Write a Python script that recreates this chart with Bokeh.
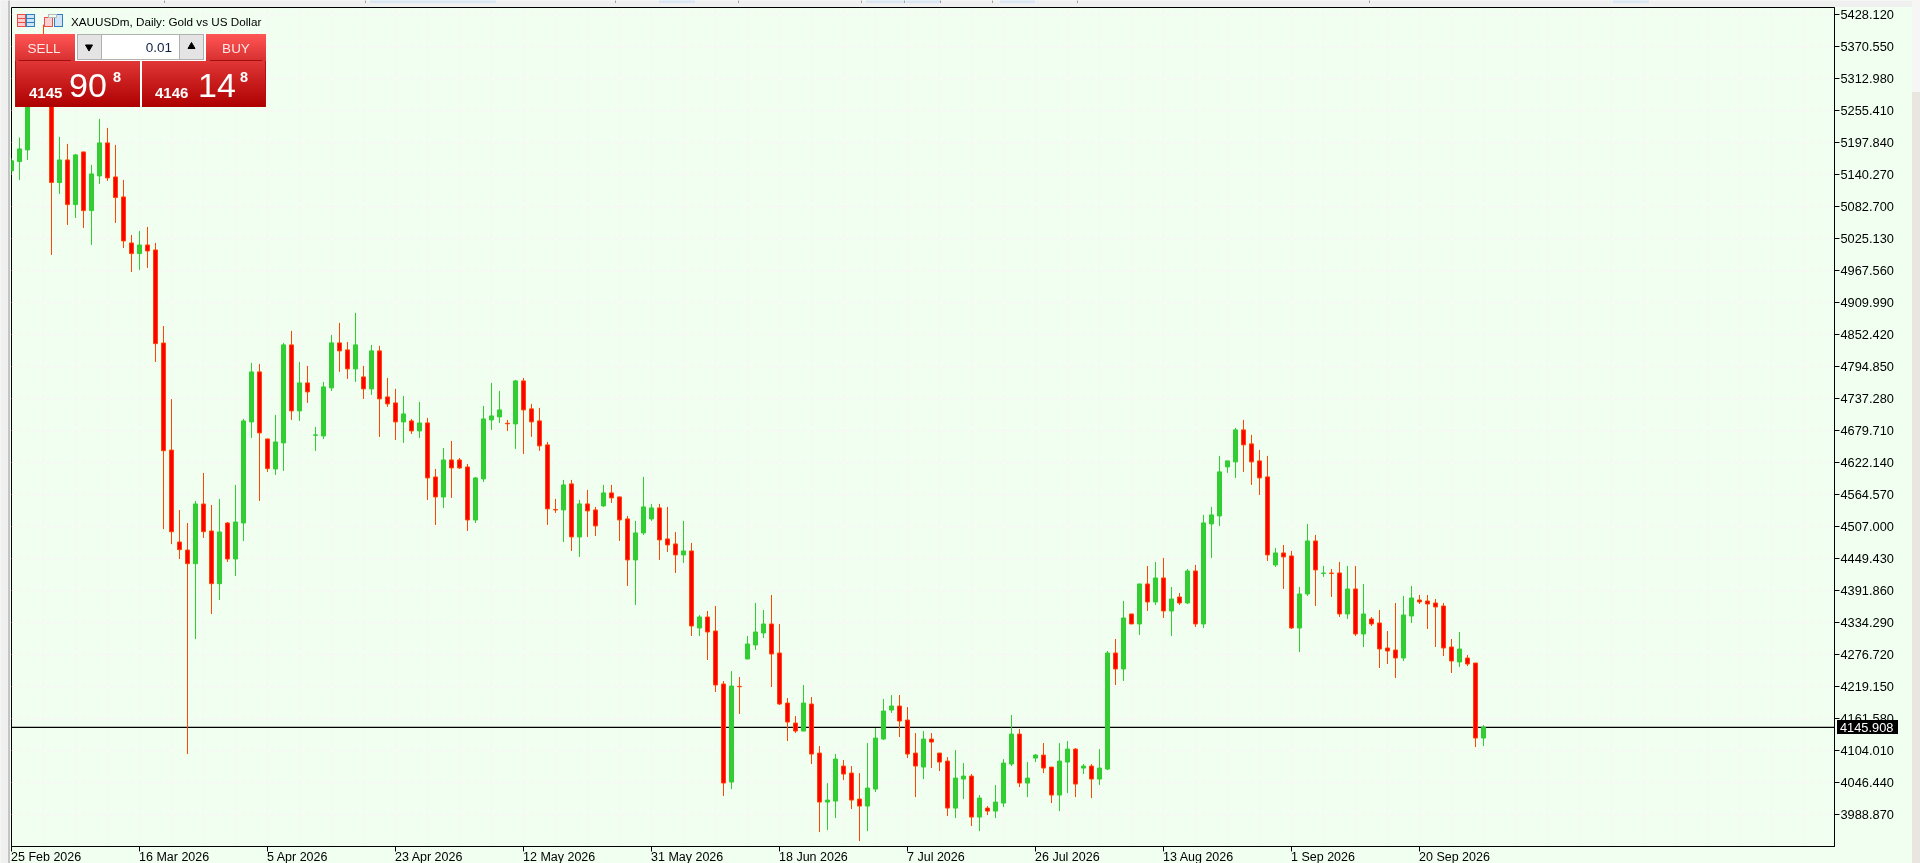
from bokeh.plotting import figure
from bokeh.embed import file_html
from bokeh.resources import INLINE
from bokeh.core.properties import value
from bokeh.models import Range1d, LinearAxis, FixedTicker, Span, Grid

# ---------- chart data ----------
opens = [
5147,5163.7,5184.7,5290,5350,5300,5125.9,5166.7,5086.3,5181.1,
5075.5,5137.9,5197.3,5136.1,5100.1,5017.3,4998.1,5013.7,5004.7,4837.3,
4644.7,4479.3,4464.9,4440.3,4547.7,4499.1,4404.3,4513.5,4448.7,4513.5,
4695.3,4785.3,4664.7,4610.7,4657.5,4833.9,4715.1,4765.5,4671.3,4670.1,
4756.5,4837.5,4824.9,4790.7,4776.3,4754.7,4823.1,4740.3,4729.5,4695.3,
4697.1,4679.1,4693.5,4596.3,4560.3,4626.9,4626.9,4614.3,4518.9,4592.7,
4698.9,4704.3,4692.9,4691.7,4769.1,4718.8,4697.2,4654,4537.6,4537,
4583.8,4488.4,4547.8,4537,4544.2,4567.6,4560.4,4520.8,4447,4495.6,
4520.8,4540.6,4484.8,4475.8,4456,4463.2,4324.6,4344.4,4319.2,4223.8,
4047.4,4219.6,4268.8,4294,4315.6,4331.8,4279.6,4189.6,4153.6,4139.2,
4187.8,4099.6,4011.4,4013.2,4076.2,4063.6,4016.8,4004.2,4034.8,4124.8,
4177,4184.2,4159,4099.6,4074.4,4124.8,4099.6,4085.2,4000.6,4052.8,
4058.2,3984.4,4000.6,3995.2,4009.6,4079.8,4133.8,4045.6,4090.6,4096,
4074.4,4024,4083.4,4106.8,4072.6,4076.2,4052.8,4070.8,4279.6,4250.8,
4349.8,4331.8,4403.8,4371.4,4414.6,4355.2,4380.4,4369.6,4427.2,4331.8,
4511.8,4526.2,4614.4,4623.4,4681,4655.8,4625.2,4596.4,4438,4459.6,
4454.2,4324.6,4385.8,4481.2,4422.8,4423.4,4423.6,4349.8,4394.8,4313.8,
4340.8,4333.6,4288.6,4285,4270.6,4346.2,4375,4373.2,4369.6,4364.2,
4290.4,4263.4,4270.6,4261.6,4126.6]
highs = [
5170,5206.9,5320,5370,5410,5320,5208.1,5195.5,5177.5,5181.1,
5157.7,5240.5,5224.3,5193.7,5130.7,5031.7,5038.9,5046.1,5017.3,4867.9,
4736.5,4536.9,4513.5,4553.1,4603.5,4545.9,4556.7,4515.3,4581.9,4700.7,
4801.5,4799.7,4664.7,4707.9,4837.5,4859.1,4803.3,4796.1,4686.3,4767.3,
4851.9,4873.5,4839.3,4891.5,4796.1,4833.9,4832.1,4774.5,4754.7,4742.1,
4700.7,4731.3,4702.5,4610.7,4648.5,4661.1,4630.5,4619.7,4596.3,4724.1,
4765.5,4751.1,4698.9,4770.9,4774.5,4727.8,4720.6,4659.4,4556.8,4591,
4591,4555,4573,4542.4,4582,4582,4560.4,4526.2,4517.2,4596.4,
4547.8,4547.8,4542.4,4497.4,4517.2,4477.6,4348,4355.2,4364.2,4229.2,
4247.2,4236.4,4310.2,4369.6,4357,4384,4331.8,4198.6,4166.2,4222,
4200.4,4112.2,4045.6,4097.8,4087,4076.2,4063.6,4117.6,4144.6,4196.8,
4204,4204,4182.4,4135.6,4139.2,4135.6,4099.6,4092.4,4105,4081.6,
4061.8,4024,4004.2,4042,4088.8,4168,4142.8,4083.4,4097.8,4117.6,
4074.4,4117.6,4121.2,4108.6,4079.8,4079.8,4106.8,4283.2,4304.8,4373.2,
4349.8,4403.8,4436.2,4443.4,4450.6,4398.4,4387.6,4430.8,4438,4528,
4542.4,4634.2,4625.2,4684.6,4699,4672,4645,4634.2,4468.6,4474,
4463.2,4398.4,4511.8,4492,4436.2,4430.8,4443.4,4436.2,4436.2,4403.8,
4344.4,4357,4319.2,4369.6,4382.2,4400.2,4384,4384,4376.8,4369.6,
4304.8,4317.4,4276,4261.6,4150]
lows = [
5140,5130.7,5166.7,5270,5285,4995.7,5105.5,5049.7,5062.3,5044.3,
5013.7,5123.5,5128.9,5053.3,5008.3,4965.1,4968.7,4972.3,4803.1,4502.5,
4475.5,4448.7,4097.7,4304.7,4486.5,4349.7,4374.9,4443.3,4418.1,4481.1,
4666.5,4553.1,4605.3,4599.9,4607.1,4698.9,4697.1,4729.5,4643.1,4664.7,
4751.1,4785.3,4772.7,4767.3,4736.7,4743.9,4668.3,4722.3,4662.9,4657.5,
4673.7,4666.5,4554.9,4509.9,4540.5,4558.5,4610.7,4499.1,4513.5,4587.3,
4680.9,4693.5,4679.1,4646.7,4637.7,4668.4,4643.2,4510,4531.6,4479.4,
4463.2,4452.4,4488.4,4490.2,4542.4,4549.6,4481.2,4400.2,4366,4492,
4517.2,4447,4461.4,4423.6,4441.6,4310.2,4310.2,4267,4209.4,4022.2,
4034.8,4169.8,4268.8,4285,4306.6,4218.4,4186,4121.2,4135.6,4139.2,
4079.8,3957.4,3961,3982.6,4051,3998.8,3941.2,3959.2,4029.4,4123,
4171.6,4128.4,4090.6,4020.4,4052.8,4072.6,4067.2,3986.2,3982.6,4016.8,
3968.2,3959.2,3988,3982.6,4002.4,4076.2,4038.4,4020.4,4083.4,4063.6,
4009.6,3995.2,4027.6,4020.4,4061.8,4018.6,4042,4069,4222,4229.2,
4331.8,4312,4355.2,4366,4342.6,4310.2,4366,4367.8,4326.4,4324.6,
4450.6,4508.2,4603.6,4594.6,4605.4,4582,4564,4445.2,4434.4,4394.8,
4322.8,4281.4,4382.2,4364.2,4416.4,4380.4,4344.4,4340.8,4310.2,4290.4,
4328.2,4252.6,4259.8,4234.6,4265.2,4333.6,4367.8,4322.8,4290.4,4274.2,
4243.6,4254.4,4256.2,4110.4,4112.2]
closes = [
5165,5186.5,5300,5350,5300,5126,5166.7,5086.3,5175.7,5075.5,
5141.5,5197.3,5134.3,5098.9,5020.9,4998.1,5013.7,5002.9,4836.1,4643.5,
4497.7,4465.5,4440.3,4547.7,4497.9,4404.3,4497.3,4448.7,4515.3,4697.1,
4785.3,4675.5,4611.3,4659.3,4833.9,4715.1,4765.5,4749.3,4672,4758.3,
4837.5,4823.1,4790.7,4833.9,4754.7,4823.1,4736.7,4727.7,4695.3,4709.7,
4679.1,4693.5,4594.5,4560.3,4626.9,4612.5,4612.5,4518.9,4594.5,4700.7,
4706.1,4716.9,4692,4769.1,4716.9,4695.4,4652.2,4538.8,4536.9,4582,
4488.4,4547.8,4535.2,4508.2,4567.6,4558.6,4519,4447,4495.6,4542.4,
4540.6,4483,4474,4456,4463.2,4328.2,4344.4,4317.4,4222,4045.6,
4220.2,4218.9,4295.8,4317.4,4331.8,4277.8,4187.8,4155.4,4139.2,4189.6,
4097.8,4011.4,4015,4088.8,4061.8,4015,4004.2,4036.6,4126.6,4175.2,
4184.2,4157.2,4097.8,4076.2,4124.8,4119.4,4083.4,4000.6,4054.6,4058.2,
3984.4,4018.6,3995.2,4011.4,4081.6,4133.8,4045.6,4054.6,4096,4072.6,
4024,4085.2,4106.8,4043.8,4076.2,4052.8,4072.6,4279.6,4250.8,4342.6,
4331.8,4403.8,4371.4,4414.6,4355.2,4376.8,4369.6,4427.2,4331.8,4513.6,
4528,4605.4,4625.2,4681,4654,4623.4,4594.6,4456,4459.6,4452.4,
4324.6,4385.8,4481.2,4429,4423.4,4422.8,4349.8,4394.8,4313.8,4349.8,
4331.8,4286.8,4283.2,4270.6,4348,4378.6,4371.4,4367.8,4362.4,4288.6,
4265.2,4286.8,4259.8,4126.6,4145.9]
assert len(opens) == len(highs) == len(lows) == len(closes) == 185

date_ticks = [0,16,32,48,64,80,96,112,128,144,160,176]
date_labels = ["25 Feb 2026","16 Mar 2026","5 Apr 2026","23 Apr 2026","12 May 2026","31 May 2026",
               "18 Jun 2026","7 Jul 2026","26 Jul 2026","13 Aug 2026","1 Sep 2026","20 Sep 2026"]
price_labels = ["5428.120","5370.550","5312.980","5255.410","5197.840","5140.270","5082.700","5025.130",
                "4967.560","4909.990","4852.420","4794.850","4737.280","4679.710","4622.140","4564.570",
                "4507.000","4449.430","4391.860","4334.290","4276.720","4219.150","4161.580","4104.010",
                "4046.440","3988.870"]
price_ticks = [float(s) for s in price_labels]
last_price = 4145.908
last_price_label = "4145.908"

# ---------- geometry of the terminal window ----------
W, H = 1920, 863
FL, FR, FT, FB = 11, 1834, 7, 846          # plot frame in page pixels
BAR_PX = 8.0
PX_PER_PRICE = 32 / 57.57
ANCHOR = 14.1                              # frame-space row of the top price tick
x0 = 0.0
x1 = (FR - FL) / BAR_PX
y1 = 5428.12 + (ANCHOR - FT) / PX_PER_PRICE
y0 = 5428.12 - (FB - ANCHOR) / PX_PER_PRICE

BG, UP, DOWN_FILL, DOWN_LINE = "#F0FFF0", "#32CD32", "#FF0000", "#FF4500"
GRID = "#FFF0F5"
FONT = "Liberation Sans"
FIXED = {"position": "fixed", "left": "0px", "top": "0px"}

p = figure(width=W, height=H, output_backend="svg", toolbar_location=None,
           x_range=Range1d(x0, x1), y_range=Range1d(y0, y1),
           x_axis_location=None, y_axis_location=None,
           min_border_left=FL, min_border_right=W - FR, min_border_top=FT, min_border_bottom=H - FB,
           background_fill_color=BG, border_fill_color=BG,
           outline_line_color="black", outline_line_width=1, styles=dict(FIXED))
p.grid.visible = False

bottom = LinearAxis(ticker=FixedTicker(ticks=date_ticks),
                    major_label_overrides={t: "" for t in date_ticks},
                    major_tick_out=5, major_tick_in=0, minor_tick_line_color=None,
                    axis_line_color="black", major_tick_line_color="black", major_label_standoff=0)
right = LinearAxis(ticker=FixedTicker(ticks=price_ticks),
                   major_label_overrides={t: s for t, s in zip(price_ticks, price_labels)},
                   major_label_text_font=FONT, major_label_text_font_size="12.8px",
                   major_label_text_color="black", major_tick_out=5, major_tick_in=0,
                   major_label_standoff=1, minor_tick_line_color=None,
                   axis_line_color="black", major_tick_line_color="black")
p.add_layout(bottom, "below")
p.add_layout(right, "right")

p.add_layout(Grid(dimension=0, ticker=FixedTicker(ticks=list(range(0, 232, 4))),
                  grid_line_color=GRID, grid_line_dash="4 3", grid_line_width=1))
p.add_layout(Grid(dimension=1, ticker=FixedTicker(ticks=price_ticks),
                  grid_line_color=GRID, grid_line_dash="4 3", grid_line_width=1))

# last-price line, behind the candles
p.add_layout(Span(location=last_price, dimension="width", line_color="black", line_width=1.2, level="underlay"))

# candles
up = [i for i in range(len(opens)) if closes[i] >= opens[i]]
dn = [i for i in range(len(opens)) if closes[i] < opens[i]]
bw = 4 / BAR_PX
p.segment(up, [highs[i] for i in up], up, [lows[i] for i in up], line_color=UP, line_width=1)
p.segment(dn, [highs[i] for i in dn], dn, [lows[i] for i in dn], line_color=DOWN_LINE, line_width=1)
p.vbar(up, bw, [closes[i] for i in up], [opens[i] for i in up], fill_color=UP, line_color=UP, line_width=1)
p.vbar(dn, bw, [opens[i] for i in dn], [closes[i] for i in dn], fill_color=DOWN_FILL, line_color=DOWN_LINE, line_width=1)

# ---------- transparent overlay for the terminal's chrome, in page pixels ----------
q = figure(width=W, height=H, output_backend="svg", toolbar_location=None,
           x_range=Range1d(0.5, W + 0.5), y_range=Range1d(H + 0.5, 0.5),
           x_axis_location=None, y_axis_location=None,
           min_border=0, background_fill_color=None, border_fill_color=None,
           outline_line_color=None, styles=dict(FIXED))
q.grid.visible = False

L, R, T, B, C = [], [], [], [], []
def box(l, t, r, b, color):
    L.append(l); T.append(t); R.append(r); B.append(b); C.append(color)

def lerp(c0, c1, f):
    a = [int(c0[k:k+2], 16) for k in (1, 3, 5)]
    b = [int(c1[k:k+2], 16) for k in (1, 3, 5)]
    return "#%02x%02x%02x" % tuple(round(a[i] + (b[i] - a[i]) * f) for i in range(3))

def grad(l, t, r, b, c0, c1):
    for yy in range(t, b):
        box(l, yy, r, yy + 1, lerp(c0, c1, (yy - t) / max(1, b - t - 1)))

TEXTS = []
def text(px, py, s, size, color="black", align="left", style="normal"):
    TEXTS.append((px, py, s, size, color, align, style))

# window strips
box(0, 0, 1920, 7, "#F0F0F0")
box(0, 0, 8, 863, "#F0F0F0")
box(8, 0, 10, 863, "#C4C4C4")
box(1912, 0, 1920, 92, "#F6F6F6")
box(1912, 92, 1920, 863, "#E9E6E0")
for a, b in [(370, 496), (659, 695), (866, 904), (906, 940), (1000, 1035), (1613, 1649)]:
    box(a, 0, b, 3, "#D9E6F4")
for a in [164, 365, 615, 738, 861, 904, 940, 992, 1077, 1369]:
    box(a, 0, a + 1, 3, "#A0A0A0")

# date labels, left-aligned on their ticks (py is the text's vertical centre)
for t, s in zip(date_ticks, date_labels):
    text(FL + t * BAR_PX, 857, s, "12.5px")

# last-price tag
box(1837, 720, 1898, 734, "#000000")
text(1840, 727, last_price_label, "12.8px", color="white")

# icons
box(17, 14, 26, 27, "#E85050")
box(18, 15, 25, 26, "#FBD0D0")
box(26, 14, 35, 27, "#2E7FC0")
box(27, 15, 34, 26, "#CFE5F7")
for yy in (18, 22):
    box(17, yy, 26, yy + 1, "#E85050")
    box(26, yy, 35, yy + 1, "#2E7FC0")
box(44, 17, 53, 27, "#E85050")
box(45, 18, 52, 26, "#FBD0D0")
box(54, 14, 63, 27, "#2E7FC0")
box(55, 15, 62, 26, "#CFE5F7")
box(48, 14, 57, 18, "#B8B8B8")
box(49, 15, 56, 17, "#F0FFF0")
text(71, 21.5, "XAUUSDm, Daily:  Gold vs US Dollar", "11.7px")

# trade panel
grad(15, 34, 75, 61, "#FF5555", "#D83030")
grad(206, 34, 266, 61, "#FF5555", "#D83030")
box(19, 60, 71, 61, "#A01010")
box(210, 60, 262, 61, "#A01010")
box(75, 34, 206, 62, "#FFFFFF")
grad(15, 61, 140, 107, "#E03636", "#AE0000")
grad(142, 61, 266, 107, "#E03636", "#AE0000")
box(15, 61, 16, 107, "#B01010")
box(265, 61, 266, 107, "#B01010")
box(140, 61, 142, 107, "#FFFFFF")
box(77, 34, 204, 60, "#B0B0B0")
box(78, 35, 101, 59, "#E4E4E4")
box(102, 35, 179, 59, "#FFFFFF")
box(180, 35, 203, 59, "#E4E4E4")
text(172, 47, "0.01", "13.5px", color="#102040", align="right")
text(44, 48, "SELL", "13.5px", color="#FFE8E8", align="center")
text(236, 48, "BUY", "13.5px", color="#FFE8E8", align="center")
text(29, 93, "4145", "15px", color="white", style="bold")
text(69, 85.5, "90", "34px", color="white")
text(113, 77, "8", "14.5px", color="white", style="bold")
text(155, 93, "4146", "15px", color="white", style="bold")
text(198, 85.5, "14", "34px", color="white")
text(240, 77, "8", "14.5px", color="white", style="bold")

q.quad(left=L, right=R, top=T, bottom=B, fill_color=C, line_color=None)
q.scatter([89], [47], marker="inverted_triangle", size=7, color="black")
q.scatter([191.5], [46.5], marker="triangle", size=7, color="black")
for px, py, s, size, color, align, style in TEXTS:
    q.text([px], [py], text=[s], text_font=value(FONT), text_font_size=value(size), text_color=color,
           text_align=align, text_baseline="middle", text_font_style=style)

open("out.html", "w").write(file_html([p, q], INLINE))
